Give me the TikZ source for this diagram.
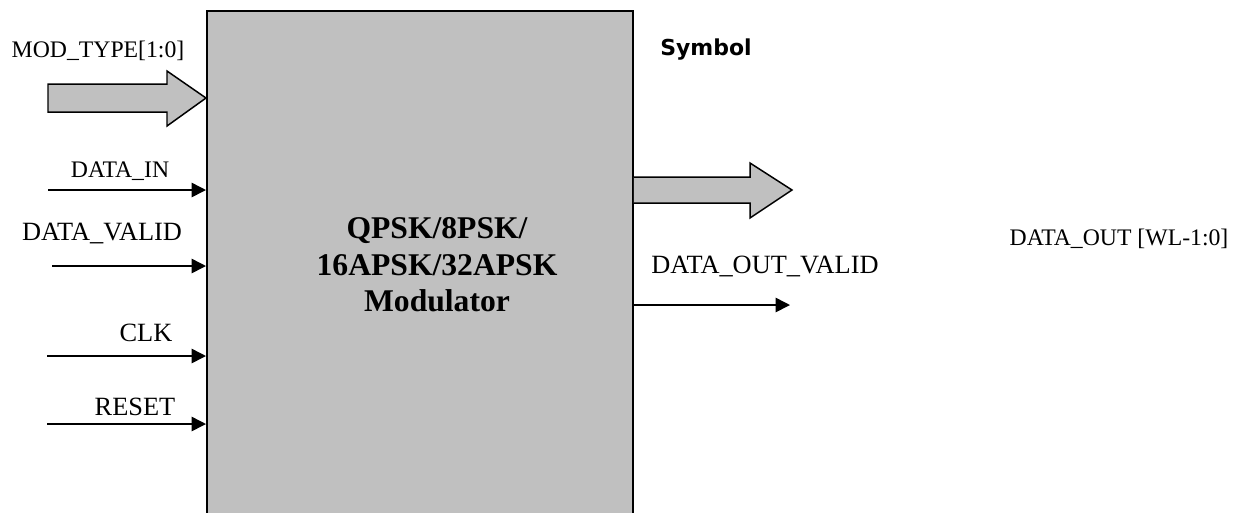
\documentclass[tikz,border=0pt]{standalone}
\usepackage{fontspec}
\setmainfont{Liberation Serif}
\newfontfamily\symfont{DejaVu Sans}
\usetikzlibrary{arrows.meta}

\definecolor{modgray}{RGB}{192,192,192}

\tikzset{
	pin/.style={font=\fontsize{13.5}{16}\selectfont, anchor=base, inner sep=0pt},
	bigpin/.style={pin, font=\fontsize{15}{18}\selectfont},
	sig/.style={line width=0.9pt, -{Triangle[length=0.29cm, width=0.29cm]}},
	bus/.style={line width=0.85pt, fill=modgray, line join=miter},
}

\begin{document}
\begin{tikzpicture}[x=0.02cm, y=-0.02cm]
	\useasboundingbox (0, 0) rectangle (1234, 512);

	% modulator block
	\node (box) [draw, line width=1.1pt, fill=modgray, minimum width=8.52cm, minimum height=11cm, inner sep=0pt, anchor=north west] at (206, 10) {};
	\node (title) [align=center, font=\bfseries\fontsize{18}{20.7}\selectfont, inner sep=0pt] at (437, 265) {QPSK/8PSK/\\16APSK/32APSK\\Modulator};
	\node (sym) [anchor=base, inner sep=0pt, font=\symfont\bfseries\fontsize{12.5}{15}\selectfont] at (706, 55) {Symbol};

	% input bus
	\coordinate (modtip) at (box.west |- 0, 98);
	\draw[bus] (48, 84) -- (167, 84) -- (167, 71) -- (modtip) -- (167, 126) -- (167, 112) -- (48, 112) -- cycle;
	\node (modtype) [pin] at (98, 57) {MOD\_TYPE[1:0]};

	% input signals
	\coordinate (din) at (48, 190);
	\coordinate (dvalid) at (52, 266);
	\coordinate (clk) at (47, 356);
	\coordinate (rst) at (47, 424);
	\draw[sig] (din) -- (din -| box.west);
	\draw[sig] (dvalid) -- (dvalid -| box.west);
	\draw[sig] (clk) -- (clk -| box.west);
	\draw[sig] (rst) -- (rst -| box.west);
	\node (dinlbl) [pin] at (120, 177) {DATA\_IN};
	\node (dvlbl) [bigpin] at (102, 240) {DATA\_VALID};
	\node (clklbl) [bigpin] at (146, 341) {CLK};
	\node (rstlbl) [bigpin] at (135, 415) {RESET};

	% output bus
	\coordinate (outtip) at (792, 190);
	\draw[bus] (box.east |- 0, 177) -- (750, 177) -- (750, 163) -- (outtip) -- (750, 218) -- (750, 203) -- (box.east |- 0, 203);
	\node (dout) [pin] at (1119, 245) {DATA\_OUT [WL-1:0]};

	% output valid
	\coordinate (dovend) at (790, 305);
	\draw[sig] (dovend -| box.east) -- (dovend);
	\node (dovlbl) [bigpin] at (765, 273) {DATA\_OUT\_VALID};
\end{tikzpicture}
\end{document}
